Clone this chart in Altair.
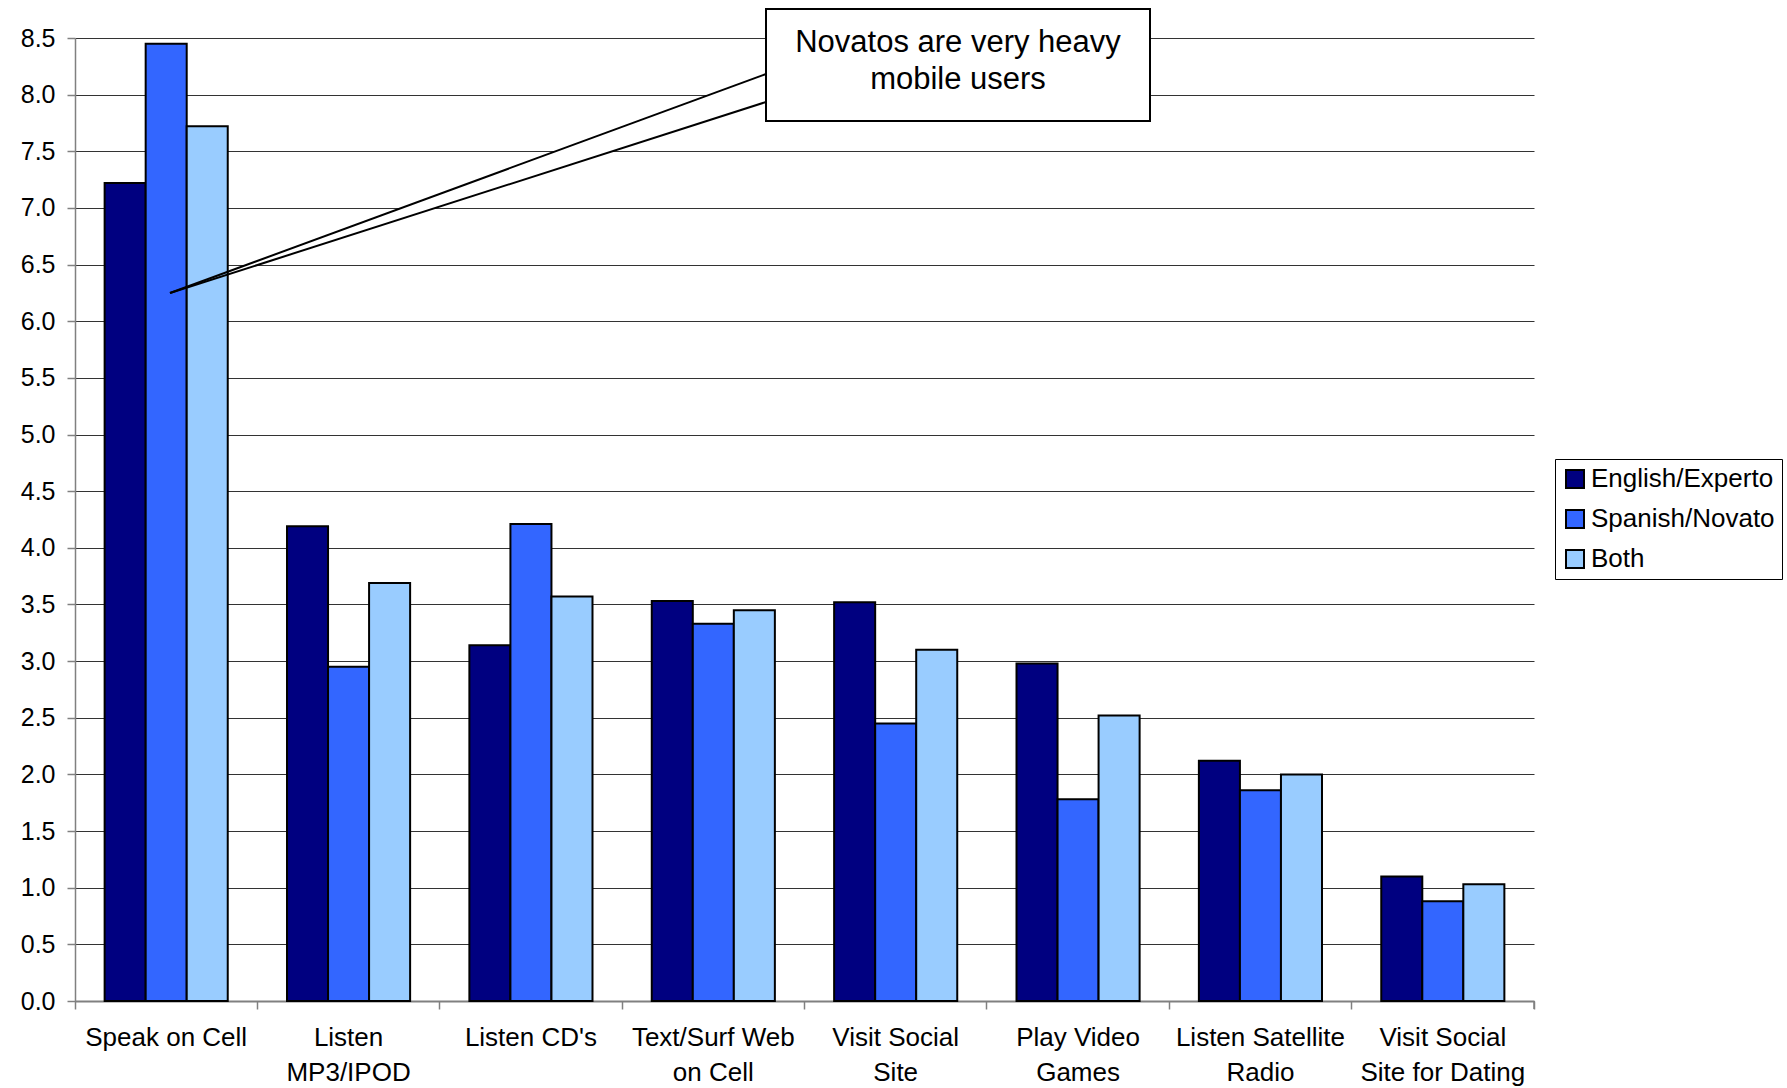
import altair as alt
import pandas as pd

# ---- data -------------------------------------------------------------
cat_lines = [
    ["Speak on Cell"],
    ["Listen", "MP3/IPOD"],
    ["Listen CD's"],
    ["Text/Surf Web", "on Cell"],
    ["Visit Social", "Site"],
    ["Play Video", "Games"],
    ["Listen Satellite", "Radio"],
    ["Visit Social", "Site for Dating"],
]
categories = ["|".join(lines) for lines in cat_lines]

series = ["English/Experto", "Spanish/Novato", "Both"]
experto = [7.22, 4.19, 3.14, 3.53, 3.52, 2.98, 2.12, 1.10]
novato = [8.45, 2.95, 4.21, 3.33, 2.45, 1.78, 1.86, 0.88]
both = [7.72, 3.69, 3.57, 3.45, 3.10, 2.52, 2.00, 1.03]
colors = ["#000080", "#3366FF", "#99CCFF"]

y_ticks = [i * 0.5 for i in range(18)]

callout_lines = ["Novatos are very heavy", "mobile users"]

rows = []
for s, vals in zip(series, [experto, novato, both]):
    for c, v in zip(categories, vals):
        rows.append({"category": c, "series": s, "value": v})
df = pd.DataFrame(rows)

# ---- layout -----------------------------------------------------------
W, H = 1459, 963
FONT = "Liberation Sans"
GRAY = "#808080"

# pixel-space scales used by the callout layers
px_scale = alt.Scale(domain=[0, W], nice=False, zero=False)
py_scale = alt.Scale(domain=[0, H], nice=False, zero=False, reverse=True)

bars = alt.Chart(df).mark_bar(stroke="black", strokeWidth=2, opacity=1).encode(
    x=alt.X(
        "category:N",
        sort=categories,
        title=None,
        scale=alt.Scale(paddingInner=0, paddingOuter=0),
        axis=alt.Axis(
            labelExpr="split(datum.label, '|')",
            labelAngle=0,
            labelFont=FONT,
            labelFontSize=26,
            labelColor="black",
            labelLineHeight=35,
            labelPadding=15,
            labelOverlap=False,
            labelLimit=400,
            bandPosition=1,
            tickExtra=True,
            tickSize=8,
            tickColor=GRAY,
            tickWidth=1.5,
            domainColor=GRAY,
            domainWidth=2,
            grid=False,
        ),
    ),
    xOffset=alt.XOffset(
        "series:N",
        sort=series,
        scale=alt.Scale(paddingInner=0, paddingOuter=0.722),
    ),
    y=alt.Y(
        "value:Q",
        title=None,
        scale=alt.Scale(domain=[0, 8.5], nice=False),
        axis=alt.Axis(
            values=y_ticks,
            format=".1f",
            labelFont=FONT,
            labelFontSize=25,
            labelColor="black",
            labelPadding=12,
            tickSize=8,
            tickColor=GRAY,
            tickWidth=1.5,
            domainColor=GRAY,
            domainWidth=1.5,
            grid=True,
            gridColor="#333333",
            gridWidth=1,
        ),
    ),
    color=alt.Color(
        "series:N",
        sort=series,
        scale=alt.Scale(domain=series, range=colors),
        legend=alt.Legend(
            title=None,
            orient="none",
            legendX=1480,
            legendY=421,
            symbolType="square",
            symbolSize=324,
            symbolStrokeColor="black",
            symbolStrokeWidth=2,
            symbolOpacity=1,
            labelFont=FONT,
            labelFontSize=26,
            labelColor="black",
            labelLimit=400,
            labelOffset=3,
            rowPadding=14,
            padding=7,
            strokeColor="black",
            fillColor="white",
        ),
    ),
)

# closing tick at the right end of the category axis
end_tick = alt.Chart(pd.DataFrame({"k": [0]})).mark_rule(
    color=GRAY, strokeWidth=1.5
).encode(x=alt.value(W), y=alt.value(H), y2=alt.value(H + 8))

# callout wedge (white fill, then its two edges)
wedge_df = pd.DataFrame({"px": [95, 691], "py": [255, 36], "py2": [255, 64]})
wedge_fill = alt.Chart(wedge_df).mark_area(fill="white", opacity=1).encode(
    x=alt.X("px:Q", scale=px_scale, axis=None),
    y=alt.Y("py:Q", scale=py_scale, axis=None),
    y2="py2:Q",
)

edges_df = pd.DataFrame(
    {"x1": [95, 95], "y1": [255, 255], "x2": [691, 691], "y2": [36, 64]}
)
wedge_edges = alt.Chart(edges_df).mark_rule(color="black", strokeWidth=2).encode(
    x=alt.X("x1:Q", scale=px_scale, axis=None),
    x2="x2:Q",
    y=alt.Y("y1:Q", scale=py_scale, axis=None),
    y2="y2:Q",
)

box = alt.Chart(pd.DataFrame({"k": [0]})).mark_rect(
    fill="white", stroke="black", strokeWidth=2
).encode(
    x=alt.value(691), x2=alt.value(1075), y=alt.value(-29), y2=alt.value(83)
)

box_text = alt.Chart(pd.DataFrame({"k": [0]})).mark_text(
    font=FONT, fontSize=31, lineHeight=37, align="center",
    baseline="alphabetic", color="black",
).encode(x=alt.value(883), y=alt.value(14), text=alt.value(callout_lines))

chart = (
    alt.layer(wedge_fill, bars, end_tick, wedge_edges, box, box_text)
    .resolve_scale(x="independent", y="independent")
    .properties(
        width=W,
        height=H,
        padding={"left": 75, "top": 38, "right": 253, "bottom": 87},
        autosize=alt.AutoSizeParams(type="none"),
        background="white",
    )
    .configure_view(stroke=None)
)

chart.save("out.html", embed_options={"renderer": "svg", "actions": False})
